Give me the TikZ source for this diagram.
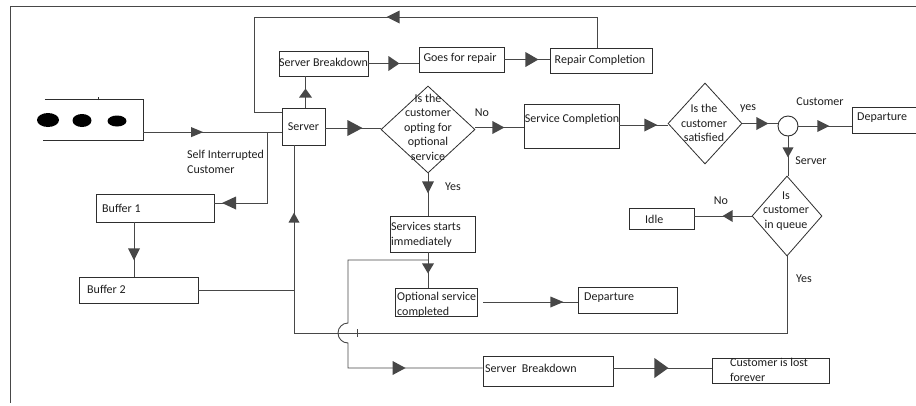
\documentclass[tikz,border=0pt]{standalone}
\usepackage{fontspec}
\setmainfont{Carlito}
\usetikzlibrary{shapes.geometric,decorations.markings,calc}
\definecolor{wire}{HTML}{474747}
\definecolor{edge}{HTML}{2E2E2E}
\definecolor{ink}{HTML}{1E1E1E}
\tikzset{
  box/.style n args={2}{draw=edge,line width=0.9pt,rectangle,inner sep=0pt,
    minimum width=#1,minimum height=#2},
  decision/.style n args={2}{draw=edge,line width=0.8pt,diamond,inner sep=0pt,
    minimum width=#1,minimum height=#2},
  junction/.style={draw=edge,line width=0.9pt,circle,inner sep=0pt,minimum size=20pt},
  wireline/.style={draw=wire,line width=0.9pt},
  % filled triangle placed along a connector: distance of the tip, length, width
  tip/.style n args={3}{postaction={decorate},decoration={markings,
    mark=at position #1 with {\fill[wire] (0pt,0pt) -- (-#2,0.5*#3) -- (-#2,-0.5*#3) -- cycle;}}},
  lbl/.style={inner sep=0pt,text=ink},
  lblL/.style={lbl,anchor=west,align=left},
}
\begin{document}
\begin{tikzpicture}[x=1pt,y=-1pt,font=\fontsize{12}{14.5}\selectfont]
\useasboundingbox (0,0) rectangle (916,405);
\fill[white] (0,0) rectangle (916,405);

% outer frame (top and left edges)
\draw[wireline] (916,6) -- (10,6) -- (10,403);

% arrival queue
\node[inner sep=0pt,minimum width=100pt,minimum height=40pt] (queue) at (93,120) {};
\draw[edge,line width=0.9pt] ([xshift=2pt]queue.north west) -- (queue.north east)
  -- (queue.south east) -- (queue.south west);
\draw[edge,line width=0.6pt] (98,100) -- (98,97);
\fill[black] (48,120) ellipse [x radius=11pt, y radius=7pt];
\fill[black] (82,120.5) ellipse [x radius=9.5pt, y radius=6.5pt];
\fill[black] (117,121) ellipse [x radius=9.5pt, y radius=5.5pt];

% boxes
\node[box={43pt}{37pt}]  (server) at (303.5,126.5) {};
\node[box={89pt}{25pt}]  (sb1)    at (323.5,63.5) {};
\node[box={85pt}{25pt}]  (repair) at (461.5,59.5) {};
\node[box={102pt}{25pt}] (rc)     at (601,60.5) {};
\node[box={95pt}{44pt}]  (sc)     at (571.5,126) {};
\node[box={73pt}{26pt}]  (dep1)   at (888.5,120) {};
\node[box={65pt}{21pt}]  (idle)   at (661.5,218.5) {};
\node[box={118pt}{28pt}] (buf1)   at (155,208) {};
\node[box={119pt}{26pt}] (buf2)   at (138.5,290) {};
\node[box={85pt}{36pt}]  (ssi)    at (432.5,234) {};
\node[box={82pt}{28pt}]  (osc)    at (436,302) {};
\node[box={99pt}{26pt}]  (dep2)   at (627.5,300) {};
\node[box={130pt}{30pt}] (sb2)    at (548,371) {};
\node[box={117pt}{25pt}] (lost)   at (770.5,370.5) {};

% decisions and the split point
\node[decision={94pt}{87pt}] (d1) at (428,129.5) {};
\node[decision={74pt}{81pt}] (d2) at (705,123.5) {};
\node[decision={70pt}{80pt}] (d3) at (787,216) {};
\node[junction] (circ) at (788,126) {};

% texts inside shapes
\node[lbl] (t-sb1) at (323.5,62) {Server Breakdown};
\node[lbl] (t-repair) at (460,58) {Goes for repair};
\node[lbl] (t-rc) at (600,60) {Repair Completion};
\node[lbl] (t-server) at (303.5,127) {Server};
\node[lbl,align=center] (t-d1) at (428,127) {Is the\\customer\\opting for\\optional\\service};
\node[lbl] (t-sc) at (572,119) {Service Completion};
\node[lbl,align=center] (t-d2) at (704,123) {Is the\\customer\\satisfied};
\node[lblL] (t-dep1) at (857,118) {Departure};
\node[lbl,align=center] (t-d3) at (786,211) {Is\\customer\\in queue};
\node[lblL] (t-idle) at (645,219) {Idle};
\node[lblL] (t-buf1) at (102,208) {Buffer 1};
\node[lblL] (t-buf2) at (87,289) {Buffer 2};
\node[lblL] (t-ssi) at (391,235) {Services starts\\immediately};
\node[lblL] (t-osc) at (397,305) {Optional service\\completed};
\node[lblL] (t-dep2) at (584,298) {Departure};
\node[lblL] (t-sb2) at (485,368) {Server\ \ Breakdown};
\node[lblL] (t-lost) at (730,370) {Customer is lost\\forever};

% free labels
\node[lblL] (t-self) at (187,162) {Self Interrupted\\Customer};
\node[lbl] (t-no1) at (482,113) {No};
\node[lblL] (t-yes1) at (445,187) {Yes};
\node[lbl] (t-yes2) at (748,109) {yes};
\node[lbl] (t-cust) at (820,102) {Customer};
\node[lbl] (t-srv) at (811,161) {Server};
\node[lbl] (t-no2) at (721,201) {No};
\node[lbl] (t-yes3) at (804,279) {Yes};

% helper points
\coordinate (qout) at ($(queue.south east)!0.2!(queue.north east)$);
\coordinate (j1) at (267,132);
\coordinate (loop-tl) at (254,17);
\coordinate (loop-bl) at (254,112);
\coordinate (back) at (294,333);
\coordinate (br) at (428,260);
\coordinate (br-corner) at (348,260);
\coordinate (hop) at (348,323);
\coordinate (br-low) at (348,368);

% connectors
\draw[wireline,tip={60pt}{12pt}{10pt}] (qout) -- (qout -| server.west);
\draw[wireline,tip={116pt}{14pt}{13pt}] (j1) |- ([yshift=5pt]buf1.east);
\draw[wireline,tip={38pt}{12pt}{12pt}] ([xshift=-21pt]buf1.south) -- ([xshift=-21pt]buf1.south |- buf2.north);
\draw[wireline] (buf2.east) -- (buf2.east -| back);
\draw[wireline,tip={19pt}{9pt}{13pt}] ([xshift=2pt]server.north) -- ([xshift=2pt]server.north |- sb1.south);
\draw[wireline,tip={31pt}{11pt}{15pt}] (sb1.east) -- (sb1.east -| repair.west);
\draw[wireline,tip={34pt}{13pt}{15pt}] (repair.east) -- (repair.east -| rc.west);
\draw[wireline,tip={241pt}{13pt}{13pt}] ([xshift=-4pt]rc.north) |- (loop-tl) -- (loop-bl) -- (loop-bl -| server.west);
\draw[wireline,tip={37pt}{15pt}{16pt}] ([yshift=-1.5pt]server.east) -- ([yshift=-1.5pt]server.east -| d1.west);
\draw[wireline,tip={29pt}{12pt}{13pt}] ([yshift=2pt]d1.east) -- ([yshift=2pt]d1.east -| sc.west);
\draw[wireline,tip={38pt}{13pt}{13pt}] ([yshift=1pt]sc.east) -- ([yshift=1pt]sc.east -| d2.west);
\draw[wireline,tip={26pt}{12pt}{13pt}] (d2.east) -- (d2.east -| circ.west);
\draw[wireline,tip={31pt}{12pt}{12pt}] (circ.east) -- (circ.east -| dep1.west);
\draw[wireline,tip={21pt}{10pt}{11pt}] (circ.south) -- (circ.south |- d3.north);
\draw[wireline,tip={29pt}{10pt}{12pt}] (d3.west) -- (d3.west -| idle.east);
\draw[wireline,tip={690pt}{10pt}{11pt}] (d3.south) |- (back) -- (back |- server.south);
\draw[wireline,tip={20pt}{12pt}{12pt}] (d1.south) -- (d1.south |- ssi.north);
\draw[wireline,tip={21pt}{10pt}{12pt}] (d1.south |- ssi.south) -- (d1.south |- osc.north);
\draw[wireline,tip={257pt}{13pt}{14pt}] (br) -- (br-corner) -- (hop)
  arc[start angle=90,end angle=270,radius=10pt] -- (br-low) -- (br-low -| sb2.west);
\draw[wireline,tip={80pt}{13pt}{11pt}] ([xshift=6pt]osc.east) -- (osc.east -| dep2.west);
\draw[wireline,tip={55pt}{14pt}{20pt}] ([yshift=3pt]sb2.east) -- ([yshift=3pt]sb2.east -| lost.west);
\draw[wire,line width=0.6pt] (357,329) -- (357,337);
\end{tikzpicture}
\end{document}
